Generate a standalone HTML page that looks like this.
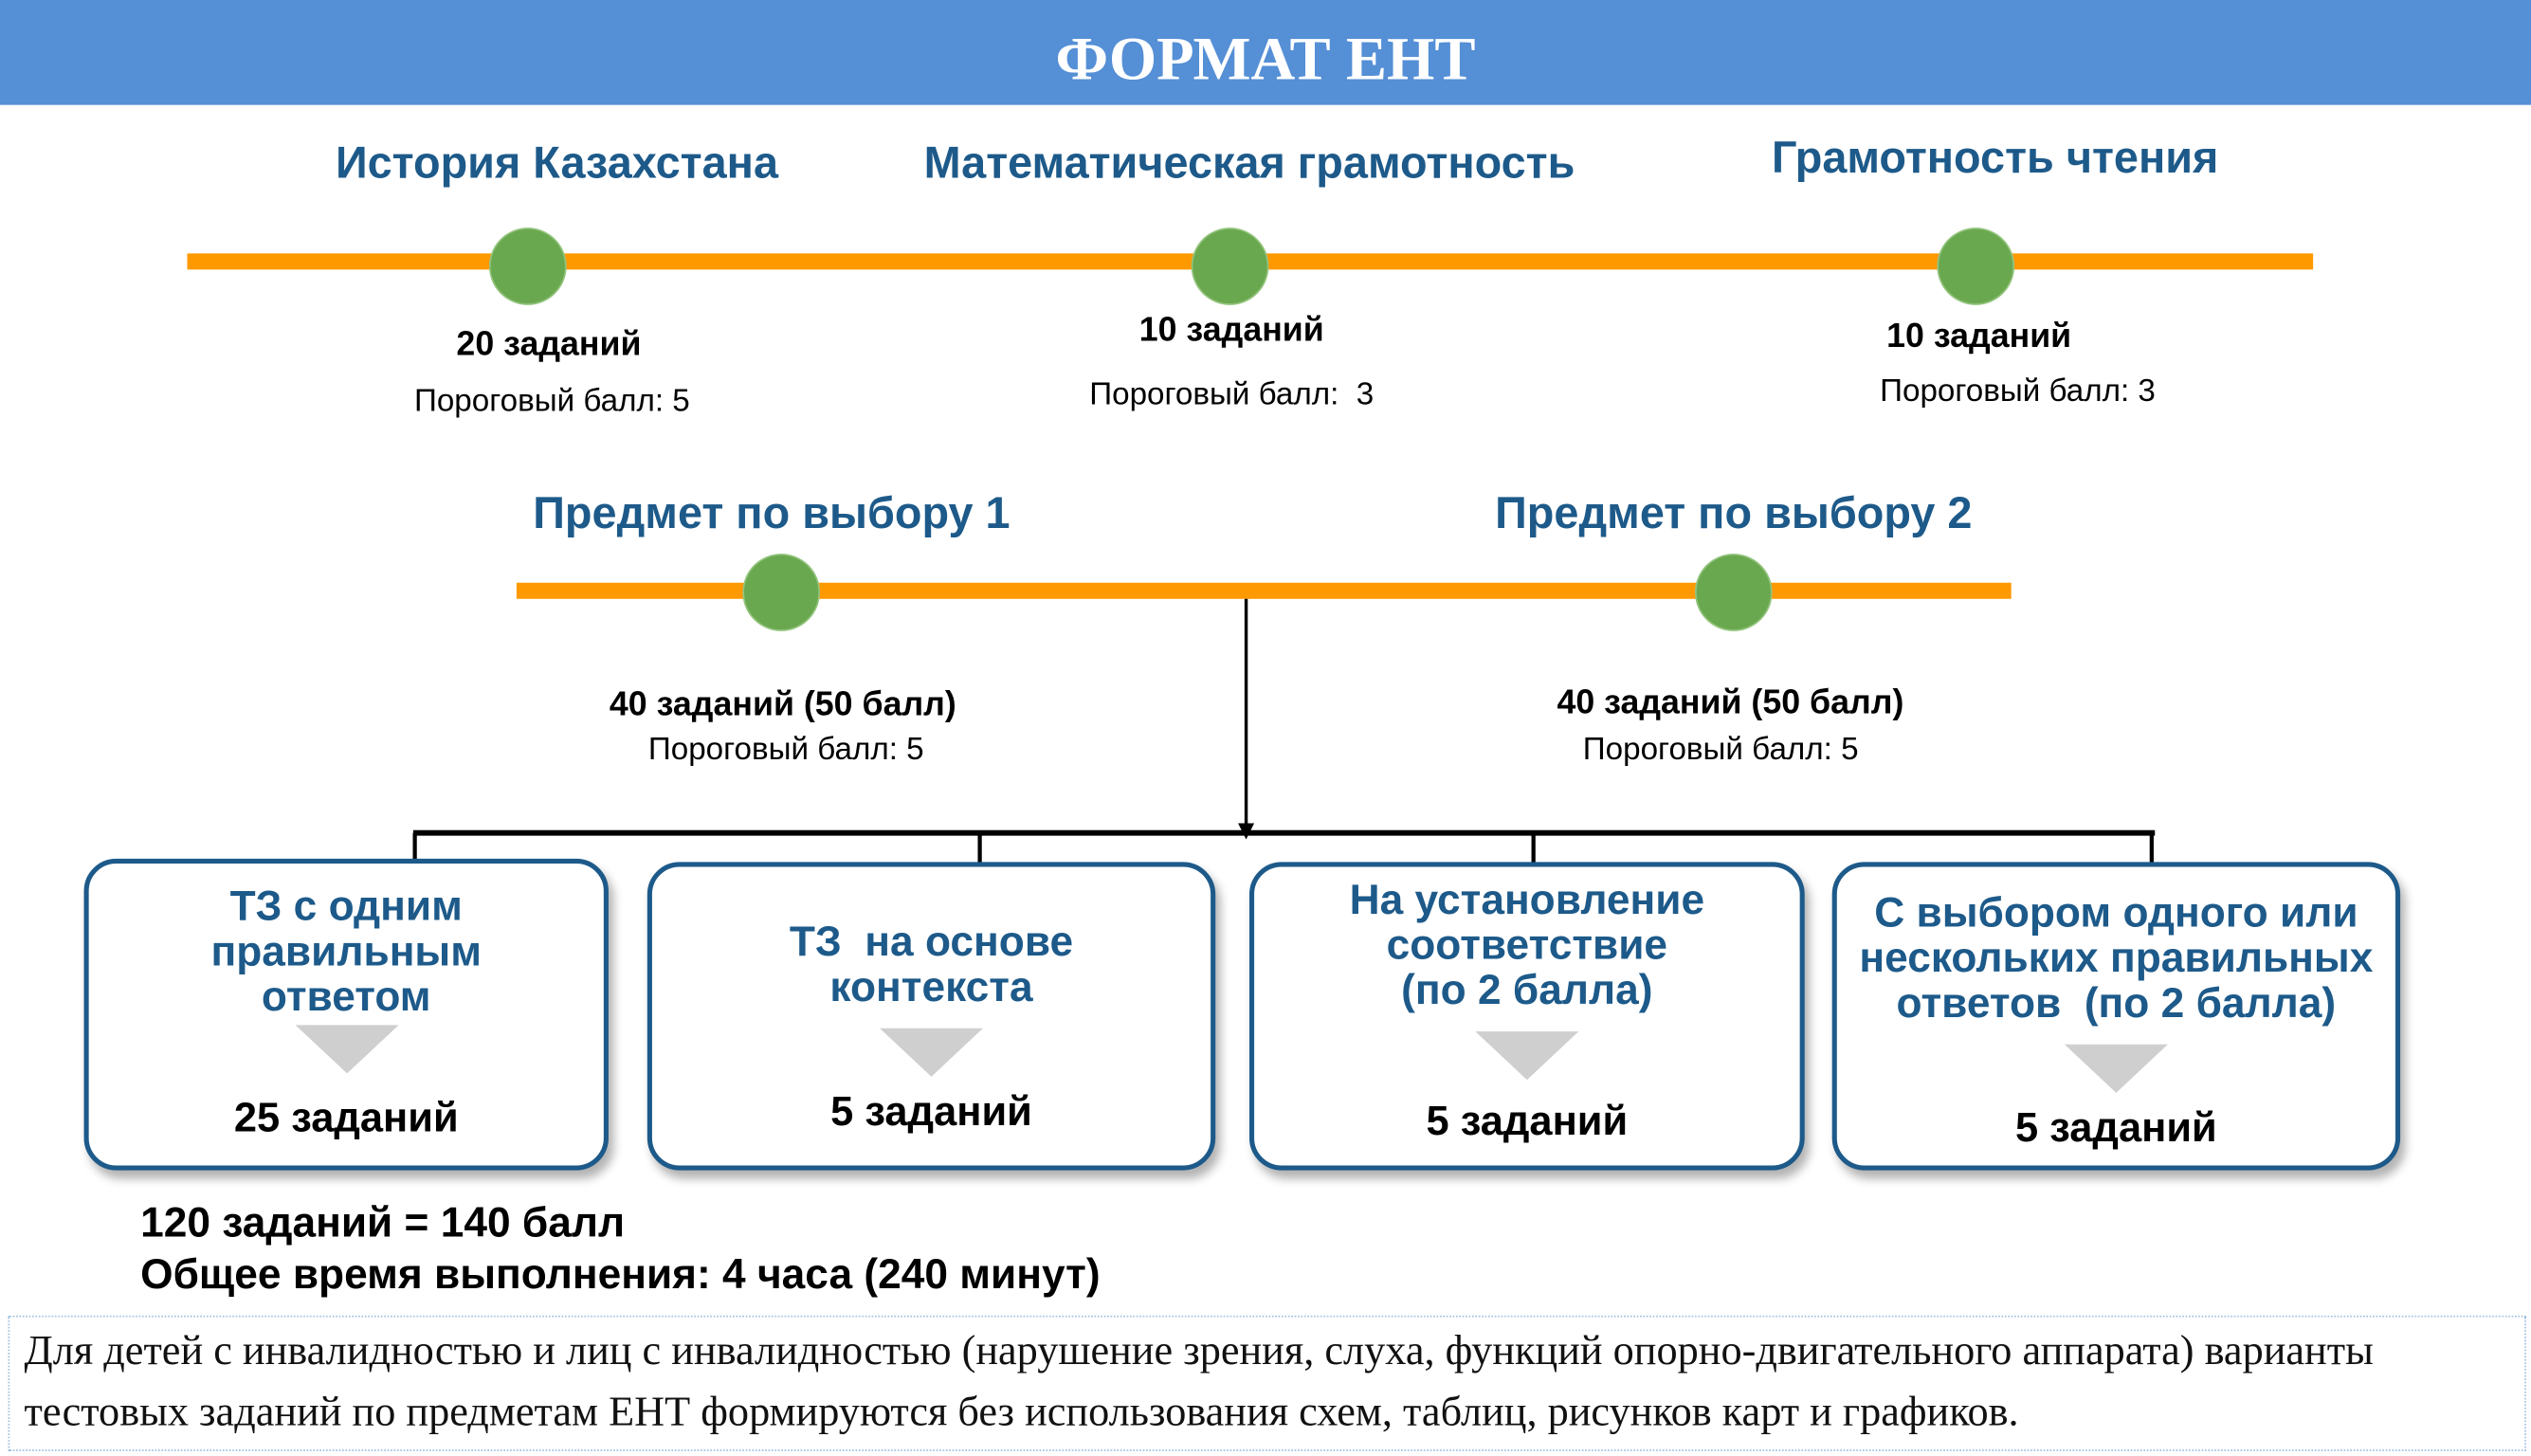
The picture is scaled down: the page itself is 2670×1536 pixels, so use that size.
<!DOCTYPE html>
<html><head><meta charset="utf-8"><style>
html,body{margin:0;padding:0;background:#fff;overflow:hidden}
#w{position:absolute;left:0;top:0;width:1568px;height:902px;transform:scale(1.70281,1.70288);transform-origin:0 0;font-family:"Liberation Sans",Arial,sans-serif}
.a{position:absolute;white-space:nowrap}
.c{transform:translate(-50%,-50%)}
.t{color:#1d5a8a;font-weight:bold;font-size:27.5px}
.k{font-weight:bold;font-size:21px;color:#000}
.p{font-size:19.5px;color:#000}
.dot{position:absolute;width:46px;height:46px;border-radius:50%;background:#6aa84f;border:1.5px solid #93c47d;transform:translate(-50%,-50%)}
.box{position:absolute;border:3px solid #1d5a8a;border-radius:20px;background:#fff;box-shadow:3px 5px 6px rgba(0,0,0,.3);box-sizing:border-box}
.bt{position:absolute;left:0;right:0;text-align:center;color:#1d5a8a;font-weight:bold;font-size:26px;line-height:28px}
.bn{position:absolute;left:0;right:0;text-align:center;color:#000;font-weight:bold;font-size:25.5px}
.tri{position:absolute;left:50%;margin-left:-32px;width:0;height:0;border-left:32px solid transparent;border-right:32px solid transparent;border-top:30px solid #cfcfcf}
</style></head><body><div id="w">
<div class="a" style="left:0;top:0;width:1568px;height:65px;background:#558fd6"></div>
<div class="a c" style="left:784px;top:37px;color:#fff;font-family:'Liberation Serif',serif;font-weight:bold;font-size:38px">ФОРМАТ ЕНТ</div>

<div class="a c t" style="left:345px;top:101px">История Казахстана</div>
<div class="a c t" style="left:774px;top:101px">Математическая грамотность</div>
<div class="a c t" style="left:1236px;top:98px">Грамотность чтения</div>

<div class="a" style="left:116px;top:157px;width:1317px;height:10px;background:#ff9900"></div>
<div class="dot" style="left:327px;top:165px"></div>
<div class="dot" style="left:762px;top:165px"></div>
<div class="dot" style="left:1224px;top:165px"></div>

<div class="a c k" style="left:340px;top:214px">20 заданий</div>
<div class="a c p" style="left:342px;top:249px">Пороговый балл: 5</div>
<div class="a c k" style="left:763px;top:205px">10 заданий</div>
<div class="a c p" style="left:763px;top:245px">Пороговый балл:&nbsp; 3</div>
<div class="a c k" style="left:1226px;top:209px">10 заданий</div>
<div class="a c p" style="left:1250px;top:243px">Пороговый балл: 3</div>

<div class="a c t" style="left:478px;top:318px">Предмет по выбору 1</div>
<div class="a c t" style="left:1074px;top:318px">Предмет по выбору 2</div>

<div class="a" style="left:320px;top:361px;width:926px;height:10px;background:#ff9900"></div>
<div class="dot" style="left:484px;top:367px"></div>
<div class="dot" style="left:1074px;top:367px"></div>

<div class="a c k" style="left:485px;top:437px">40 заданий (50 балл)</div>
<div class="a c p" style="left:487px;top:465px">Пороговый балл: 5</div>
<div class="a c k" style="left:1072px;top:436px">40 заданий (50 балл)</div>
<div class="a c p" style="left:1066px;top:465px">Пороговый балл: 5</div>

<svg class="a" style="left:0;top:0" width="1568" height="902">
<line x1="772" y1="371" x2="772" y2="512" stroke="#000" stroke-width="2"/>
<polygon points="767,510 777,510 772,520" fill="#000"/>
<line x1="256" y1="516" x2="1335" y2="516" stroke="#000" stroke-width="3.5"/>
<line x1="257" y1="516" x2="257" y2="534" stroke="#000" stroke-width="2.5"/>
<line x1="607" y1="516" x2="607" y2="536" stroke="#000" stroke-width="2.5"/>
<line x1="950" y1="516" x2="950" y2="536" stroke="#000" stroke-width="2.5"/>
<line x1="1333" y1="516" x2="1333" y2="536" stroke="#000" stroke-width="2.5"/>
</svg>

<div class="box" style="left:52px;top:532px;width:325px;height:193px">
<div class="bt" style="top:12px">ТЗ с одним<br>правильным<br>ответом</div>
<div class="tri" style="top:100px"></div>
<div class="bn" style="top:144px">25 заданий</div></div>
<div class="box" style="left:401px;top:534px;width:352px;height:191px">
<div class="bt" style="top:32px">ТЗ&nbsp; на основе<br>контекста</div>
<div class="tri" style="top:100px"></div>
<div class="bn" style="top:138px">5 заданий</div></div>
<div class="box" style="left:774px;top:534px;width:344px;height:191px">
<div class="bt" style="top:6px">На установление<br>соответствие<br>(по 2 балла)</div>
<div class="tri" style="top:102px"></div>
<div class="bn" style="top:144px">5 заданий</div></div>
<div class="box" style="left:1135px;top:534px;width:352px;height:191px">
<div class="bt" style="top:14px">С выбором одного или<br>нескольких правильных<br>ответов&nbsp; (по 2 балла)</div>
<div class="tri" style="top:110px"></div>
<div class="bn" style="top:148px">5 заданий</div></div>

<div class="a" style="left:87px;top:741px;font-weight:bold;font-size:26px;line-height:32px">120 заданий = 140 балл<br>Общее время выполнения: 4 часа (240 минут)</div>

<div class="a" style="left:5px;top:815px;width:1558px;height:82px;border:1px dotted #9fc0e0"></div>
<div class="a" style="left:15px;top:818px;font-family:'Liberation Serif',serif;font-size:26px;line-height:38px;color:#111">Для детей с инвалидностью и лиц с инвалидностью (нарушение зрения, слуха, функций опорно-двигательного аппарата) варианты<br>тестовых заданий по предметам ЕНТ формируются без использования схем, таблиц, рисунков карт и графиков.</div>
</div></body></html>
